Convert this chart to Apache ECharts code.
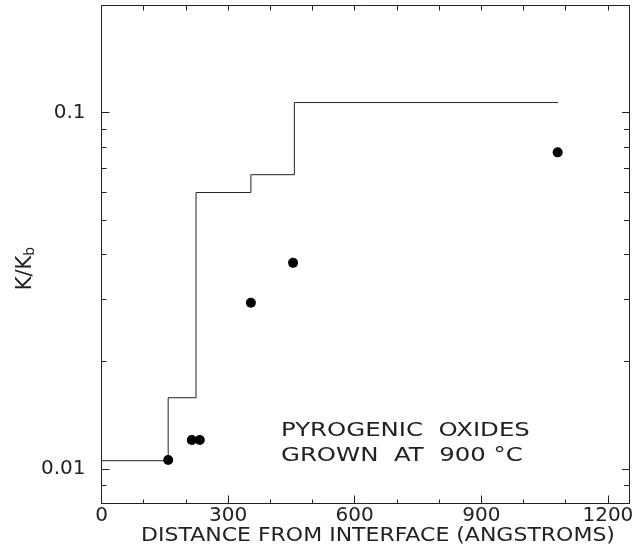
<!DOCTYPE html>
<html>
<head>
<meta charset="utf-8">
<script src="https://cdn.jsdelivr.net/npm/echarts@6/dist/echarts.min.js"></script>
<style>
  html, body { margin: 0; padding: 0; background: #ffffff; }
  #chart { width: 641px; height: 550px; }
</style>
</head>
<body>
<div id="chart"></div>
<script>
// ---- data ----
const stepX = [0, 158, 224, 354, 457, 1082];
const stepY = [0.01055, 0.01585, 0.0597, 0.067, 0.1068, 0.1068];
const pointX = [158, 214, 233, 354, 454, 1081];
const pointY = [0.0106, 0.01206, 0.01206, 0.0293, 0.0379, 0.0774];

// ---- axis ticks / labels ----
const xMajorTicks = [0, 300, 600, 900, 1200];
const xMinorTicks = [100, 200, 400, 500, 700, 800, 1000, 1100];
const xTopTicks = [100, 200, 300, 400, 500, 600, 700, 800, 900, 1000, 1100, 1200];
const yMajorTicks = [0.01, 0.1];
const yMinorTicks = [0.009, 0.02, 0.03, 0.04, 0.05, 0.06, 0.07, 0.08, 0.09];
const yLabels = ['0.01', '0.1'];

const FONT = 'DejaVu Sans';
const INK = '#222222';
const X_MIN = 0, X_MAX = 1250, Y_MIN = 0.008, Y_MAX = 0.2;

const chart = echarts.init(document.getElementById('chart'));

function xAx(extra) {
  return Object.assign({
    type: 'value', min: X_MIN, max: X_MAX, position: 'bottom',
    splitLine: { show: false },
    axisLine: { show: true, onZero: false, lineStyle: { color: INK, width: 1 } },
    axisLabel: { show: false },
    axisTick: { show: false }
  }, extra);
}
function yAx(extra) {
  return Object.assign({
    type: 'log', logBase: 10, min: Y_MIN, max: Y_MAX, position: 'left',
    splitLine: { show: false },
    axisLine: { show: true, onZero: false, lineStyle: { color: INK, width: 1 } },
    axisLabel: { show: false },
    axisTick: { show: false }
  }, extra);
}

const option = {
  backgroundColor: '#ffffff',
  animation: false,
  grid: { left: 101.5, right: 12, top: 5.5, bottom: 46.5, containLabel: false, outerBoundsMode: 'none' },
  xAxis: [
    xAx({
      axisLabel: {
        show: true, customValues: xMajorTicks, fontFamily: FONT, fontSize: 20, color: INK, margin: 2,
        formatter: function (v) { return String(v); }
      },
      axisTick: { show: true, inside: true, length: 8, customValues: xMajorTicks, lineStyle: { color: INK } }
    }),
    xAx({
      axisLine: { show: false, onZero: false },
      axisTick: { show: true, inside: true, length: 4, customValues: xMinorTicks, lineStyle: { color: INK } }
    }),
    xAx({
      position: 'top',
      axisTick: { show: true, inside: true, length: 5, customValues: xTopTicks, lineStyle: { color: INK } }
    })
  ],
  yAxis: [
    yAx({
      name: 'K/K{sub|b}',
      nameLocation: 'middle', nameGap: 64, nameRotate: 90, nameMoveOverlap: false,
      nameTextStyle: {
        fontFamily: FONT, fontSize: 21, color: INK, padding: [0, 28, 0, 0],
        rich: { sub: { fontFamily: FONT, fontSize: 14, color: INK, padding: [10, 0, 0, 0] } }
      },
      axisLabel: {
        show: true, customValues: yMajorTicks, fontFamily: FONT, fontSize: 20, color: INK, margin: 16,
        formatter: function (v) {
          const i = yMajorTicks.findIndex(t => Math.abs(t - v) / t < 1e-6);
          return i >= 0 ? yLabels[i] : '';
        }
      },
      axisTick: { show: true, inside: true, length: 8, customValues: yMajorTicks, lineStyle: { color: INK } }
    }),
    yAx({
      axisLine: { show: false, onZero: false },
      axisTick: { show: true, inside: true, length: 5, customValues: yMinorTicks, lineStyle: { color: INK } }
    }),
    yAx({
      position: 'right',
      axisTick: { show: true, inside: true, length: 7, customValues: yMajorTicks, lineStyle: { color: INK } }
    }),
    yAx({
      position: 'right',
      axisLine: { show: false, onZero: false },
      axisTick: { show: true, inside: true, length: 5, customValues: yMinorTicks, lineStyle: { color: INK } }
    })
  ],
  graphic: [
    {
      type: 'text', x: 378, y: 526, scaleX: 1.1, silent: true,
      style: {
        text: 'DISTANCE FROM INTERFACE (ANGSTROMS)',
        font: '20px "DejaVu Sans"', fill: INK, align: 'center', verticalAlign: 'top'
      }
    },
    {
      type: 'text', x: 281, y: 418, scaleX: 1.22, silent: true,
      style: {
        text: 'PYROGENIC  OXIDES\nGROWN  AT  900 °C',
        font: '20px "DejaVu Sans"', fill: INK, lineHeight: 25, align: 'left', verticalAlign: 'top'
      }
    }
  ],
  series: [
    {
      type: 'line', xAxisIndex: 0, yAxisIndex: 0,
      step: 'end', showSymbol: false, symbol: 'none',
      lineStyle: { color: INK, width: 1 },
      data: stepX.map((x, i) => [x, stepY[i]]),
      z: 2
    },
    {
      type: 'scatter', xAxisIndex: 0, yAxisIndex: 0,
      symbol: 'circle', symbolSize: 10,
      itemStyle: { color: '#000000', opacity: 1 },
      data: pointX.map((x, i) => [x, pointY[i]]),
      z: 3
    }
  ]
};
chart.setOption(option);
</script>
</body>
</html>
